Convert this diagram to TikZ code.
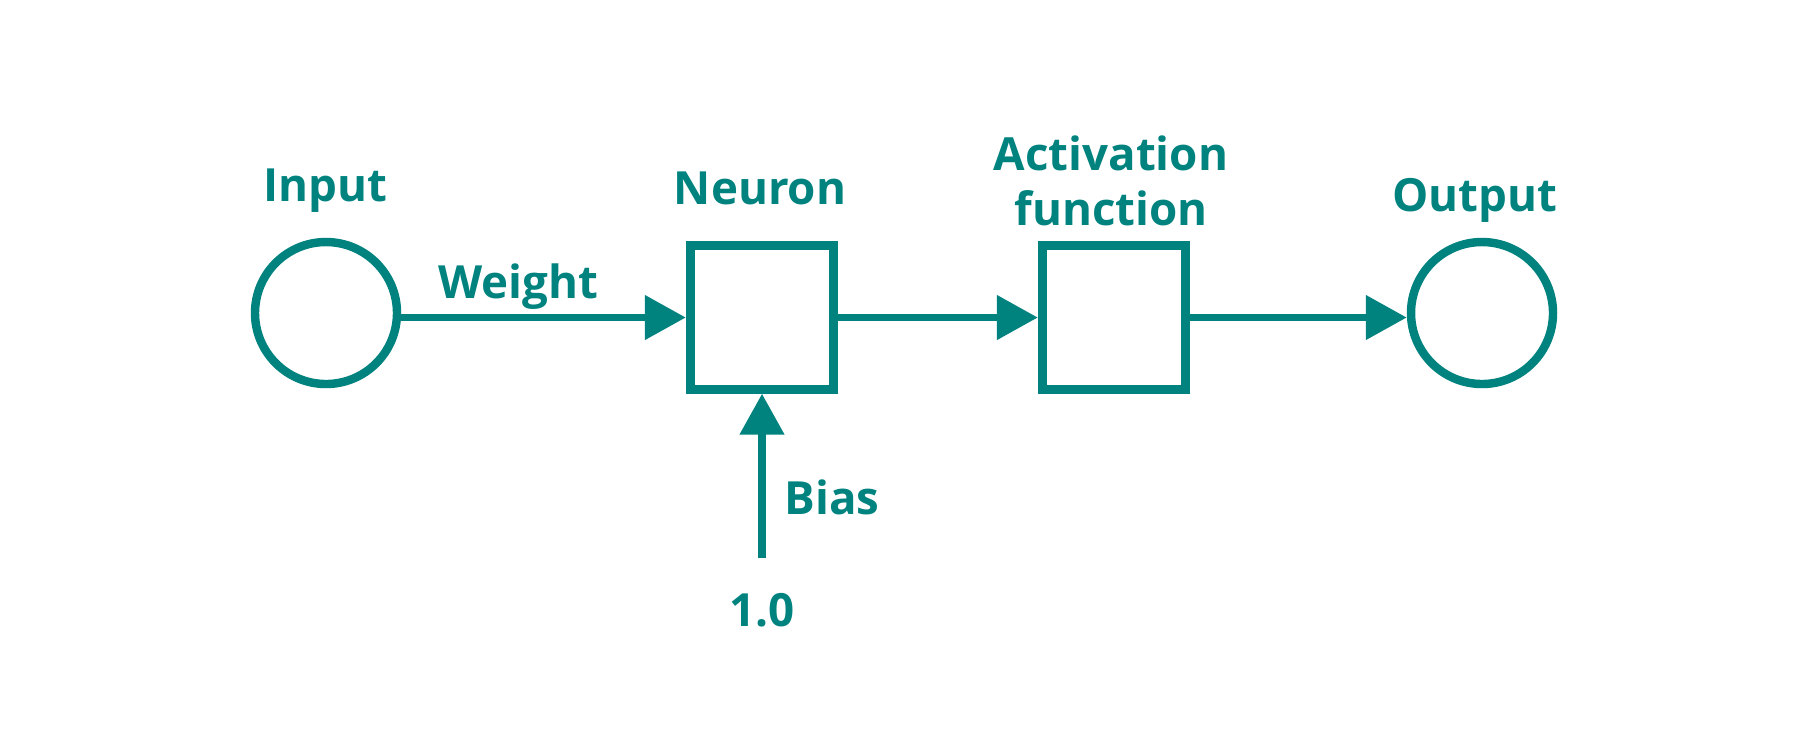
\documentclass[tikz,border=0pt]{standalone}
\usepackage{fontspec}
\setmainfont{Open Sans}
\usepackage{tikz}
\usetikzlibrary{arrows.meta,positioning}
\definecolor{teal1}{RGB}{0,131,127}

\tikzset{
	unit/.style={circle, draw=teal1, line width=2.4pt, minimum size=1.42cm, inner sep=0pt},
	block/.style={rectangle, draw=teal1, line width=2.5pt, minimum size=1.435cm, inner sep=0pt},
	lbl/.style={text=teal1, font=\fontsize{13}{15.5}\selectfont\bfseries, align=center},
	conn/.style={draw=teal1, line width=2.2pt, -{Triangle[length=0.41cm, width=0.43cm]}}
}

\begin{document}
\begin{tikzpicture}
		\useasboundingbox (0,0) rectangle (18.14,-7.29);
		
		% units and blocks
		\node[unit] (input) at (3.26,-3.13) {};
		\node[block] (neuron) at (7.62,-3.175) {};
		\node[block] (activ) at (11.14,-3.175) {};
		\node[unit] (output) at (14.82,-3.13) {};
		
		% labels
		\node[lbl] (inputlbl) at (3.25,-1.91) {Input};
		\node[lbl] (neuronlbl) at (7.60,-1.88) {Neuron};
		\node[lbl] (activlbl) at (11.11,-1.81) {Activation\\function};
		\node[lbl] (outputlbl) at (14.75,-2.00) {Output};
		\node[lbl] (weightlbl) at (5.18,-2.87) {Weight};
		\node[lbl] (biaslbl) at (8.32,-4.97) {Bias};
		\node[lbl] (one) at (7.62,-6.10) {1.0};
		
		% connections
		\coordinate (biasstart) at (7.62,-5.58);
		\draw[conn] (input.east |- neuron.west) -- (neuron.west);
		\draw[conn] (neuron.east) -- (activ.west);
		\draw[conn] (activ.east) -- (activ.east -| output.west);
		\draw[conn] (biasstart) -- (neuron.south);
	\end{tikzpicture}
\end{document}
